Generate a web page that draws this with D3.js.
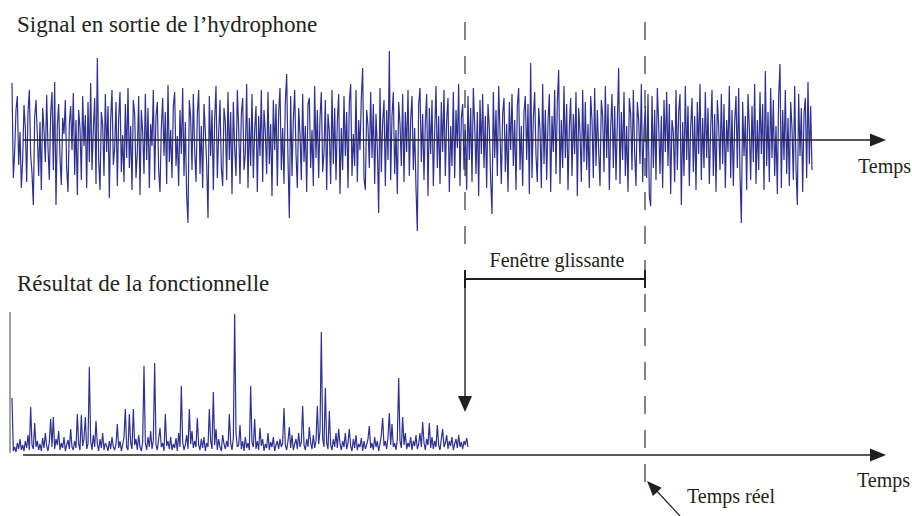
<!DOCTYPE html>
<html><head><meta charset="utf-8">
<script src="https://cdn.jsdelivr.net/npm/d3@7"></script>
<style>html,body{margin:0;padding:0;background:#fff;}svg{display:block;}</style>
</head><body>
<script>
// Signal en sortie de l'hydrophone (amplitude, ~1.33 px per sample)
const hydrophoneSignal = [
 57,-38,-12,30,44,-25,8,-48,-20,35,12,-42,28,50,-15,-33,-65,22,40,5,
 -36,18,-50,32,10,-22,45,-8,-40,26,48,-30,58,-65,14,36,-18,-45,22,6,
 40,-28,-52,16,34,-10,47,-35,20,-55,30,12,-40,44,-6,25,-48,38,-22,57,
 -30,10,42,-44,82,-20,-50,28,15,-36,46,-12,34,-58,20,50,-25,-8,38,-46,
 22,48,-32,5,-42,36,-18,52,-28,14,-50,40,26,-38,-12,44,-55,30,8,-34,
 46,-20,32,-48,16,-6,50,-40,24,38,-30,-52,12,42,-16,28,-44,55,-22,10,
 -38,34,48,-26,4,-46,30,-14,52,-36,18,-56,-83,40,22,-30,46,-10,-42,26,
 50,-34,14,-48,36,8,-24,-78,44,-16,30,-50,20,54,-38,6,40,-28,-46,32,
 18,-40,48,-20,28,-54,38,-8,-36,50,12,-44,26,42,-30,-14,56,-48,22,-26,
 46,-38,10,34,-52,24,-16,50,-42,30,8,-34,48,-24,16,-56,40,-10,36,-46,
 28,52,-30,12,-44,38,66,-20,-78,44,-36,20,50,-14,-48,32,6,-40,46,-22,
 14,-52,36,42,-28,10,-46,54,-18,30,-38,22,48,-32,-12,40,-50,26,8,-44,
 50,-24,32,-40,18,46,-54,12,-30,44,-16,28,-48,38,56,-36,6,-26,50,-42,
 20,-10,42,72,-38,-50,30,14,-28,48,-18,36,-44,26,-8,-73,52,-32,18,40,
 -46,30,-20,89,-40,24,48,-34,10,-54,38,16,-26,46,-42,28,-12,50,-36,20,
 44,-30,12,-48,-91,36,52,-22,26,-40,18,46,-56,32,-14,40,-46,8,54,-28,
 24,-44,38,-12,50,-36,20,42,-52,14,-26,48,-38,30,-8,56,-46,22,36,-30,
 10,-50,44,-20,32,-42,52,16,-34,28,-56,40,-14,46,-28,24,-48,36,12,-40,
 -74,48,-18,30,-36,54,8,-44,26,42,-32,16,-52,38,-10,46,-26,20,-50,34,
 52,-30,14,-46,28,44,-20,36,-54,77,-38,22,48,-16,-42,32,10,-48,56,-24,
 30,-40,18,46,-52,24,-12,50,-34,38,70,-44,20,-28,54,-18,36,-50,12,42,
 -36,26,-14,48,-56,32,8,-42,50,-22,38,-30,16,-48,44,20,-38,52,-26,30,
 -10,-46,40,24,-32,54,-18,36,-50,12,46,-28,34,-40,18,72,-44,28,-20,48,
 -36,14,-52,42,26,-30,50,-14,-46,38,20,-24,56,-42,10,34,-38,46,-56,-66,
 44,-28,30,-40,52,16,-34,24,-48,40,-12,48,-26,36,-54,20,8,-42,50,-30,
 28,46,-65,18,-36,54,-20,34,-46,12,42,-32,24,-50,38,-14,56,-40,22,-28,
 48,-18,32,-44,10,50,-36,26,-52,40,14,-30,46,-24,36,-48,20,-12,54,-38,
 30,-46,18,44,-28,52,-34,-83,38,-16,24,-50,46,12,-40,34,-22,56,-44,20,
 -30,48,-14,36,-50,69,-26,28,-42,52,-18,40,-36,14,-54,44,76,-48,30,-20,
 50,-34,22,-46,38,12,-40,54,-28,-65,46,-16,32,-52,26,42,-38,58,-24,34,
 -30
];
// Résultat de la fonctionnelle (non-negative, computed up to the left edge of the window)
const functionalResult = [
 55,2,6,1,10,4,14,3,8,2,12,5,18,3,46,8,4,30,6,12,
 3,9,2,15,5,20,7,2,11,34,6,36,4,14,8,22,3,10,5,16,
 2,8,13,4,24,6,3,12,5,39,9,3,38,7,14,36,4,9,86,12,
 3,18,6,32,9,2,14,5,20,3,10,7,2,12,4,16,6,3,9,29,
 5,12,2,8,16,44,6,3,39,10,4,44,8,14,3,18,6,2,11,87,
 10,3,16,6,22,4,12,90,8,3,14,25,6,10,2,39,7,12,4,16,
 3,9,5,15,2,20,6,67,11,3,8,18,4,44,9,22,5,12,6,35,
 8,3,14,5,16,2,10,6,44,12,4,61,8,24,3,14,6,2,18,9,
 4,12,6,39,10,3,15,139,20,6,8,28,4,12,2,16,5,10,3,67,
 10,6,34,4,12,3,25,7,14,2,9,5,20,3,11,6,16,2,8,12,
 4,14,6,10,45,8,3,12,26,5,18,3,9,14,4,20,6,11,47,8,
 3,14,6,26,10,4,18,5,12,47,9,22,121,14,6,65,10,4,42,8,
 3,14,6,20,5,24,9,3,12,6,20,4,10,24,7,2,14,5,18,3,
 9,6,15,2,12,4,8,14,27,5,10,3,16,6,12,2,9,18,35,7,
 12,4,16,40,8,29,6,10,3,14,75,12,5,36,8,20,4,10,6,16,
 3,12,7,18,4,9,20,6,31,10,3,14,8,30,5,16,4,12,6,28,
 8,3,14,24,6,10,18,4,12,7,16,3,9,14,5,18,6,11,4,12,
 8,15,6
];
const labels = {
  top: "Signal en sortie de l\u2019hydrophone",
  bottom: "R\u00e9sultat de la fonctionnelle",
  time: "Temps",
  window: "Fen\u00eatre glissante",
  realTime: "Temps r\u00e9el"
};

const W = 912, H = 516;
const ink = "#231f20", blue = "#2e3192";
const font = "'Liberation Serif','Times New Roman',serif";
const svg = d3.select("body").append("svg").attr("width", W).attr("height", H);

// scales
const xTop = d3.scaleLinear().domain([0, hydrophoneSignal.length - 1]).range([12, 812]);
const yTop = d3.scaleLinear().domain([-100, 100]).range([240, 40]);
const xBot = d3.scaleLinear().domain([0, functionalResult.length - 1]).range([12, 468]);
const yBot = d3.scaleLinear().domain([0, 150]).range([453, 303]);

// signals
svg.append("path").datum(hydrophoneSignal)
  .attr("fill", "none").attr("stroke", blue).attr("stroke-width", 1.2)
  .attr("stroke-linejoin", "miter").attr("stroke-miterlimit", 2)
  .attr("d", d3.line().x((d, i) => xTop(i)).y(d => yTop(d)));

svg.append("line").attr("x1", 10).attr("x2", 10)
  .attr("y1", yBot(0)).attr("y2", yBot(141))
  .attr("stroke", "#666").attr("stroke-width", 1.2);

svg.append("path").datum(functionalResult)
  .attr("fill", "none").attr("stroke", blue).attr("stroke-width", 1.2)
  .attr("stroke-linejoin", "miter").attr("stroke-miterlimit", 2)
  .attr("d", d3.line().x((d, i) => xBot(i)).y(d => yBot(d)));

// axes with arrows
function arrowAxis(y) {
  svg.append("line").attr("x1", 23).attr("x2", 872).attr("y1", y).attr("y2", y)
    .attr("stroke", ink).attr("stroke-width", 1.4);
  svg.append("path").attr("d", `M870,${y - 6.5}L886,${y}L870,${y + 6.5}Z`).attr("fill", ink);
}
arrowAxis(yTop(0));
arrowAxis(455);

// dashed lines
const xWinL = 465, xWinR = 645;
svg.append("line").attr("x1", xWinL).attr("x2", xWinL).attr("y1", 22).attr("y2", 250)
  .attr("stroke", "#333").attr("stroke-width", 1.2).attr("stroke-dasharray", "18,16");
svg.append("line").attr("x1", xWinR).attr("x2", xWinR).attr("y1", 22).attr("y2", 483)
  .attr("stroke", "#333").attr("stroke-width", 1.2).attr("stroke-dasharray", "18,16");

// window bracket
svg.append("line").attr("x1", xWinL).attr("x2", xWinR).attr("y1", 279).attr("y2", 279)
  .attr("stroke", ink).attr("stroke-width", 2);
[xWinL, xWinR].forEach(x => svg.append("line").attr("x1", x).attr("x2", x)
  .attr("y1", 270).attr("y2", 288).attr("stroke", ink).attr("stroke-width", 2));
svg.append("line").attr("x1", xWinL).attr("x2", xWinL).attr("y1", 279).attr("y2", 400)
  .attr("stroke", ink).attr("stroke-width", 1.4);
svg.append("path").attr("d", `M${xWinL - 7},396L${xWinL},412L${xWinL + 7},396Z`).attr("fill", ink);

// temps réel arrow
svg.append("line").attr("x1", 680).attr("x2", 654).attr("y1", 516).attr("y2", 488)
  .attr("stroke", ink).attr("stroke-width", 1.2);
{
  const tx = 647, ty = 481, ang = Math.atan2(516 - 481, 680 - 647);
  const L = 15, hw = 6;
  const bx = tx + L * Math.cos(ang), by = ty + L * Math.sin(ang);
  const px = -Math.sin(ang) * hw, py = Math.cos(ang) * hw;
  svg.append("path").attr("d", `M${tx},${ty}L${bx + px},${by + py}L${bx - px},${by - py}Z`).attr("fill", ink);
}

// texts
function txt(x, y, s, size, anchor) {
  svg.append("text").attr("x", x).attr("y", y).text(s)
    .attr("font-family", font).attr("font-size", size).attr("fill", ink)
    .attr("text-anchor", anchor || "start");
}
txt(17, 32, labels.top, 23);
txt(17, 291, labels.bottom, 23);
txt(858, 173, labels.time, 20);
txt(857, 487, labels.time, 20);
txt(557, 267, labels.window, 20, "middle");
txt(687, 503, labels.realTime, 20);
</script>
</body></html>
